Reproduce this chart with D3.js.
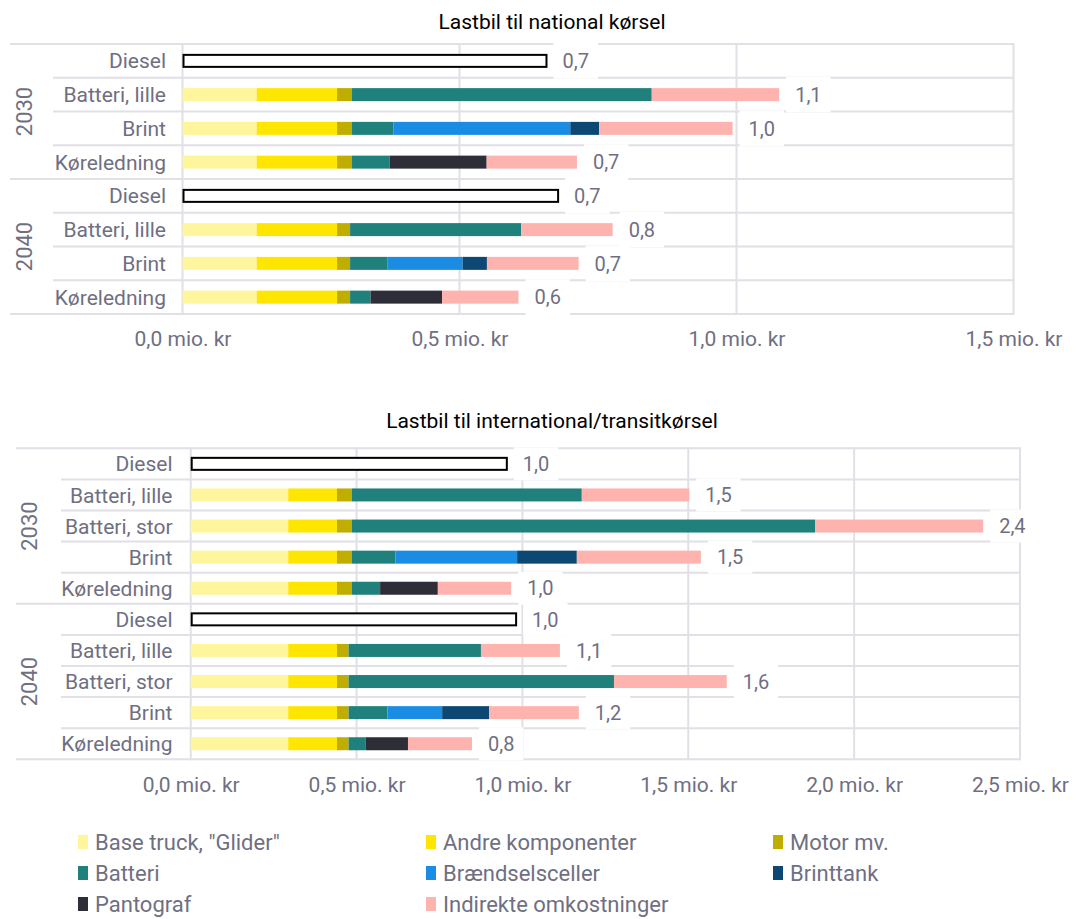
<!DOCTYPE html>
<html>
<head>
<meta charset="utf-8">
<script src="https://cdn.jsdelivr.net/npm/d3@7"></script>
<style>
  body { margin: 0; background: #fff; }
  svg { display: block; font-family: Roboto, "Noto Sans", sans-serif; }
</style>
</head>
<body>
<svg id="chart" width="1082" height="919"></svg>
<script>
// ---- data (mio. kr) ----
const years = ["2030", "2040"];

const componentNames = ['Base truck, "Glider"', "Andre komponenter", "Motor mv.",
  "Batteri", "Brændselsceller", "Brinttank", "Pantograf", "Indirekte omkostninger"];
const componentColors = ["#FFF59C", "#FFE600", "#BFAD00", "#1F807C",
  "#1A8CE3", "#0D4874", "#2E2E38", "#FFB3AF"];

// Lastbil til national kørsel — rows: Diesel, Batteri lille, Brint, Køreledning (2030, then 2040)
const nationalCategories = ["Diesel", "Batteri, lille", "Brint", "Køreledning"];
const nationalDiesel   = [0.657, 0, 0, 0,      0.678, 0, 0, 0];
const nationalBase     = [0, 0.134, 0.134, 0.134,  0, 0.134, 0.134, 0.134];
const nationalAndre    = [0, 0.145, 0.145, 0.145,  0, 0.145, 0.145, 0.145];
const nationalMotor    = [0, 0.027, 0.027, 0.027,  0, 0.0235, 0.0235, 0.0235];
const nationalBatteri  = [0, 0.541, 0.075, 0.068,  0, 0.309, 0.067, 0.037];
const nationalFuelCell = [0, 0, 0.319, 0,          0, 0, 0.136, 0];
const nationalTank     = [0, 0, 0.052, 0,          0, 0, 0.044, 0];
const nationalPanto    = [0, 0, 0, 0.175,          0, 0, 0, 0.129];
const nationalIndirect = [0, 0.230, 0.241, 0.163,  0, 0.165, 0.1655, 0.138];
const nationalTicks = [0, 0.5, 1.0, 1.5];

// Lastbil til international/transitkørsel — rows: Diesel, Batteri lille, Batteri stor, Brint, Køreledning
const internationalCategories = ["Diesel", "Batteri, lille", "Batteri, stor", "Brint", "Køreledning"];
const internationalDiesel   = [0.953, 0, 0, 0, 0,        0.981, 0, 0, 0, 0];
const internationalBase     = [0, 0.294, 0.294, 0.294, 0.294,  0, 0.294, 0.294, 0.294, 0.294];
const internationalAndre    = [0, 0.147, 0.147, 0.147, 0.147,  0, 0.147, 0.147, 0.147, 0.147];
const internationalMotor    = [0, 0.045, 0.045, 0.045, 0.045,  0, 0.035, 0.035, 0.035, 0.035];
const internationalBatteri  = [0, 0.693, 1.396, 0.131, 0.085,  0, 0.399, 0.800, 0.117, 0.051];
const internationalFuelCell = [0, 0, 0, 0.367, 0,              0, 0, 0, 0.165, 0];
const internationalTank     = [0, 0, 0, 0.180, 0,              0, 0, 0, 0.142, 0];
const internationalPanto    = [0, 0, 0, 0, 0.174,              0, 0, 0, 0, 0.128];
const internationalIndirect = [0, 0.324, 0.507, 0.374, 0.221,  0, 0.238, 0.340, 0.270, 0.193];
const internationalTicks = [0, 0.5, 1.0, 1.5, 2.0, 2.5];

// ---- helpers ----
const keys = ["base", "andre", "motor", "batteri", "fuel", "tank", "panto", "indirect"];
const locale = d3.formatLocale({ decimal: ",", thousands: ".", grouping: [3], currency: ["", " kr"] });
const f1 = locale.format(".1f");
const GRID = "#E0E0E6";
const TEXT = "#6F6F82";

const svg = d3.select("#chart");

function drawChart(cfg) {
  const g = svg.append("g");
  const n = cfg.categories.length;
  const rows = [];
  years.forEach((yr, yi) => cfg.categories.forEach((cat, ci) => {
    const i = yi * n + ci;
    const r = { id: yr + "|" + cat, year: yr, category: cat, diesel: cfg.diesel[i] };
    keys.forEach((k, ki) => { r[k] = cfg.values[ki][i]; });
    r.total = r.diesel + d3.sum(keys, k => r[k]);
    rows.push(r);
  }));

  const x = d3.scaleLinear().domain([0, d3.max(cfg.ticks)]).range([cfg.x0, cfg.x1]);
  const y = d3.scaleBand().domain(rows.map(r => r.id)).range([cfg.top, cfg.bottom]).padding(0);
  const bw = y.bandwidth();
  const barH = 13;

  // horizontal separators (group lines reach the year column)
  const bounds = d3.range(rows.length + 1);
  g.append("g").selectAll("line").data(bounds).join("line")
    .attr("x1", i => (i % n === 0) ? cfg.groupLineX : cfg.sepX)
    .attr("x2", cfg.x1)
    .attr("y1", i => cfg.top + i * bw).attr("y2", i => cfg.top + i * bw)
    .attr("stroke", GRID).attr("stroke-width", 2);

  // vertical gridlines
  g.append("g").selectAll("line").data(cfg.ticks).join("line")
    .attr("x1", d => x(d)).attr("x2", d => x(d))
    .attr("y1", cfg.top - 1).attr("y2", cfg.bottom + 1)
    .attr("stroke", GRID).attr("stroke-width", 2);

  // stacked bars
  const stack = d3.stack().keys(keys)(rows);
  g.append("g").selectAll("g").data(stack).join("g")
    .attr("fill", (d, i) => componentColors[i])
    .selectAll("rect").data(d => d.filter(s => s[1] - s[0] > 0)).join("rect")
    .attr("x", s => x(s[0]))
    .attr("width", s => x(s[1]) - x(s[0]))
    .attr("y", s => y(s.data.id) + bw / 2 - barH / 2)
    .attr("height", barH);

  // diesel reference bars (outlined)
  g.append("g").selectAll("rect").data(rows.filter(r => r.diesel > 0)).join("rect")
    .attr("x", x(0) + 1)
    .attr("width", r => x(r.diesel) - x(0) - 1)
    .attr("y", r => y(r.id) + bw / 2 - 6)
    .attr("height", 12)
    .attr("fill", "#fff").attr("stroke", "#000").attr("stroke-width", 2);

  // value labels with white boxes
  const lab = g.append("g").selectAll("g").data(rows).join("g");
  const box = lab.append("rect").attr("fill", "#fff");
  const txt = lab.append("text")
    .attr("x", r => x(r.total) + 16)
    .attr("y", r => y(r.id) + bw / 2)
    .attr("dy", "0.36em")
    .attr("font-size", 20).attr("fill", TEXT)
    .text(r => f1(r.total));
  box.each(function (r, i) {
    const w = txt.nodes()[i].getComputedTextLength();
    d3.select(this)
      .attr("x", x(r.total) + 7).attr("width", w + 18)
      .attr("y", y(r.id) - 1).attr("height", bw + 2);
  });

  // category labels
  g.append("g").selectAll("text").data(rows).join("text")
    .attr("x", cfg.catX).attr("y", r => y(r.id) + bw / 2).attr("dy", "0.36em")
    .attr("text-anchor", "end").attr("font-size", 21).attr("fill", TEXT)
    .text(r => r.category);

  // year labels (rotated)
  g.append("g").selectAll("text").data(years).join("text")
    .attr("transform", (yr, yi) => {
      const cy = cfg.top + (yi * n + n / 2) * bw;
      return `translate(${cfg.yearX},${cy}) rotate(-90)`;
    })
    .attr("text-anchor", "middle").attr("dy", "0.36em")
    .attr("font-size", 22).attr("fill", TEXT)
    .text(yr => yr);

  // value axis
  const ax = g.append("g").attr("transform", `translate(0,${cfg.axisY})`)
    .call(d3.axisBottom(x).tickValues(cfg.ticks).tickSize(0).tickPadding(0)
      .tickFormat(d => f1(d) + " mio. kr"));
  ax.select(".domain").remove();
  ax.selectAll("text").attr("font-size", 21).attr("fill", TEXT)
    .attr("font-family", "Roboto, 'Noto Sans', sans-serif");

  // title
  g.append("text").attr("x", 552).attr("y", cfg.titleY)
    .attr("text-anchor", "middle").attr("font-size", 21).attr("fill", "#000")
    .text(cfg.title);
}

drawChart({
  title: "Lastbil til national kørsel", titleY: 29,
  categories: nationalCategories, diesel: nationalDiesel,
  values: [nationalBase, nationalAndre, nationalMotor, nationalBatteri,
    nationalFuelCell, nationalTank, nationalPanto, nationalIndirect],
  ticks: nationalTicks,
  x0: 182.5, x1: 1013.5, top: 44, bottom: 314,
  groupLineX: 10, sepX: 53, catX: 166, yearX: 24, axisY: 331
});

drawChart({
  title: "Lastbil til international/transitkørsel", titleY: 428,
  categories: internationalCategories, diesel: internationalDiesel,
  values: [internationalBase, internationalAndre, internationalMotor, internationalBatteri,
    internationalFuelCell, internationalTank, internationalPanto, internationalIndirect],
  ticks: internationalTicks,
  x0: 190.7, x1: 1020, top: 448.3, bottom: 759.3,
  groupLineX: 16, sepX: 61, catX: 172.5, yearX: 29.5, axisY: 777.5
});

// legend
const legendCols = [78, 426, 773];
const legendRows = [835, 866, 897];
const legend = svg.append("g").selectAll("g").data(componentNames).join("g")
  .attr("transform", (d, i) => `translate(${legendCols[i % 3]},${legendRows[Math.floor(i / 3)]})`);
legend.append("rect").attr("width", 10).attr("height", 14)
  .attr("fill", (d, i) => componentColors[i]);
legend.append("text").attr("x", 17).attr("y", 15)
  .attr("font-size", 22).attr("fill", TEXT).text(d => d);
</script>
</body>
</html>
